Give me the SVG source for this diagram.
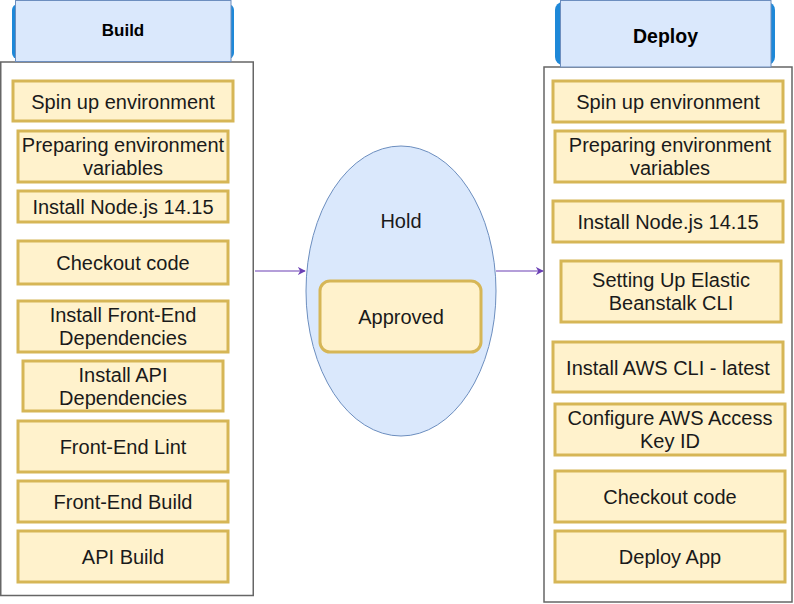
<svg xmlns="http://www.w3.org/2000/svg" width="794" height="604" viewBox="0 0 794 604">
<style>
text{font-family:"Liberation Sans",Arial,sans-serif;font-size:20px;fill:#1a1a1a;text-anchor:middle}
.hd{font-weight:bold;fill:#000}
.box{fill:#fff2cc;stroke:#d6b656;stroke-width:3}
.cont{fill:#fff;stroke:#666;stroke-width:1.5}
.hdback{fill:#1e88d8;stroke:none}
.hdfront{fill:#dae8fc;stroke:#6c8ebf;stroke-width:1}
.edge{stroke:#6a3fb4;stroke-width:1.2;fill:none}
</style>
<defs>
<marker id="arr" viewBox="0 0 10 10" refX="9" refY="5" markerWidth="8" markerHeight="8" markerUnits="userSpaceOnUse" orient="auto">
<path d="M0,0 L10,5 L0,10 L3,5 Z" fill="#6a3fb4"/>
</marker>
</defs>
<rect width="794" height="604" fill="#fff"/>

<g id="build-container">
<rect class="cont" x="0.75" y="62" width="252.5" height="533.5"/>
</g>
<g id="build-header">
<rect class="hdback" x="12" y="4" width="222" height="55" rx="6"/>
<rect class="hdfront" x="15.5" y="0.5" width="215.5" height="61"/>
<text class="hd" x="123" y="36" style="font-size:17px">Build</text>
</g>
<g id="b1"><rect class="box" x="13" y="81" width="220" height="40"/><text x="123" y="108.5">Spin up environment</text></g>
<g id="b2"><rect class="box" x="18" y="131" width="210" height="51"/><text x="123" y="152">Preparing environment</text><text x="123" y="175">variables</text></g>
<g id="b3"><rect class="box" x="18" y="191" width="210" height="31"/><text x="123" y="214">Install Node.js 14.15</text></g>
<g id="b4"><rect class="box" x="18" y="241" width="210" height="43"/><text x="123" y="270">Checkout code</text></g>
<g id="b5"><rect class="box" x="18" y="301" width="210" height="51"/><text x="123" y="322">Install Front-End</text><text x="123" y="345">Dependencies</text></g>
<g id="b6"><rect class="box" x="23" y="361" width="200" height="50"/><text x="123" y="381.5">Install API</text><text x="123" y="404.5">Dependencies</text></g>
<g id="b7"><rect class="box" x="18" y="421" width="210" height="51"/><text x="123" y="454">Front-End Lint</text></g>
<g id="b8"><rect class="box" x="18" y="481" width="210" height="41"/><text x="123" y="509">Front-End Build</text></g>
<g id="b9"><rect class="box" x="18" y="531" width="210" height="51"/><text x="123" y="564">API Build</text></g>

<g id="hold">
<ellipse cx="401" cy="291" rx="95" ry="145" fill="#dae8fc" stroke="#6c8ebf" stroke-width="1"/>
<text x="401" y="228">Hold</text>
</g>
<g id="approved">
<rect class="box" x="320" y="281" width="161" height="71" rx="10"/>
<text x="401" y="324">Approved</text>
</g>

<g id="deploy-container">
<rect class="cont" x="544" y="67" width="248" height="535"/>
</g>
<g id="deploy-header">
<rect class="hdback" x="555" y="2" width="220" height="63" rx="8"/>
<rect class="hdfront" x="560.5" y="0.5" width="210.5" height="66.5"/>
<text class="hd" x="665.5" y="43" style="font-size:19.5px">Deploy</text>
</g>
<g id="d1"><rect class="box" x="553" y="81" width="230" height="41"/><text x="668" y="109">Spin up environment</text></g>
<g id="d2"><rect class="box" x="555" y="131" width="230" height="51"/><text x="670" y="152">Preparing environment</text><text x="670" y="175">variables</text></g>
<g id="d3"><rect class="box" x="553" y="201" width="230" height="41"/><text x="668" y="229">Install Node.js 14.15</text></g>
<g id="d4"><rect class="box" x="561" y="261" width="220" height="61"/><text x="671" y="287">Setting Up Elastic</text><text x="671" y="310">Beanstalk CLI</text></g>
<g id="d5"><rect class="box" x="553" y="342" width="230" height="50"/><text x="668" y="374.5">Install AWS CLI - latest</text></g>
<g id="d6"><rect class="box" x="555" y="404" width="230" height="51"/><text x="670" y="425">Configure AWS Access</text><text x="670" y="448">Key ID</text></g>
<g id="d7"><rect class="box" x="555" y="471" width="230" height="51"/><text x="670" y="504">Checkout code</text></g>
<g id="d8"><rect class="box" x="555" y="531" width="230" height="51"/><text x="670" y="564">Deploy App</text></g>

<g id="connectors">
<line class="edge" x1="255" y1="271" x2="305" y2="271" marker-end="url(#arr)"/>
<line class="edge" x1="496" y1="271" x2="543" y2="271" marker-end="url(#arr)"/>
</g>
</svg>
